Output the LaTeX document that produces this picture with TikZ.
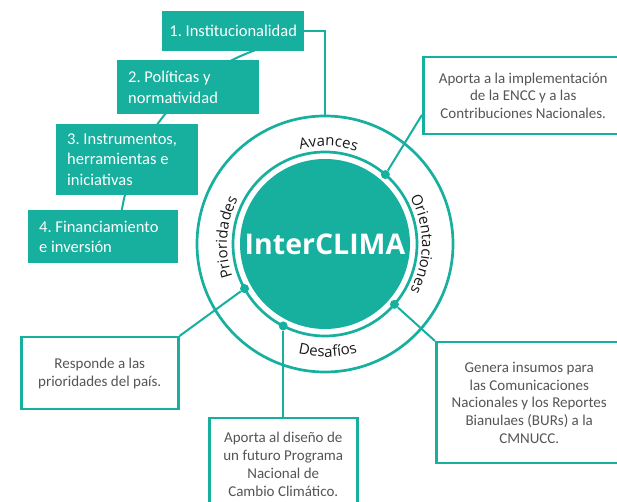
\documentclass[tikz,border=0pt]{standalone}
\usepackage{fontspec}
\setmainfont{Open Sans}
\newfontfamily\boxfont{Carlito}
\usetikzlibrary{positioning,calc,decorations.text}
\definecolor{ClimaTeal}{RGB}{23,175,158}
\definecolor{BoxText}{RGB}{85,85,85}
\definecolor{RingText}{RGB}{25,25,25}
\frenchspacing

\tikzset{
  tealbox/.style={fill=ClimaTeal, text=white, anchor=north west, inner xsep=11pt, inner ysep=0pt,
    align=left, font=\boxfont\fontsize{16.5}{20.5}\selectfont,
    execute at begin node={\spaceskip=0pt\xspaceskip=0pt}},
  notebox/.style={draw=ClimaTeal, line width=2.5pt, fill=white, text=BoxText, anchor=north west,
    inner sep=0pt, align=center, font=\boxfont\fontsize{15}{17.8}\selectfont},
  ring/.style={circle, draw=ClimaTeal, line width=2.7pt, inner sep=0pt, outer sep=0pt},
  link/.style={draw=ClimaTeal, line width=2pt},
  dot/.style={circle, fill=ClimaTeal, minimum size=9pt, inner sep=0pt},
  ringlabel/.style={decorate, decoration={text along path, text align=center, text color=RingText,
    text={|\fontsize{15}{17}\selectfont|#1}}}
}

\begin{document}
\begin{tikzpicture}[x=1pt, y=1pt]
  \useasboundingbox (0,0) rectangle (617,502);
  \coordinate (c) at (325,258);

  % spine behind the four topics
  \draw[link] (c) ++(105:206pt) arc[start angle=105, end angle=175, radius=206pt];

  \node[tealbox, align=center, minimum width=142pt, minimum height=40pt, inner xsep=0pt] (inst) at (162,491) {1. Institucionalidad};
  \node[tealbox, text width=120pt, minimum height=54pt] (pol) at (117,442) {2. Políticas y\\normatividad};
  \node[tealbox, text width=120pt, minimum height=71pt] (instr) at (56,378) {3. Instrumentos,\\herramientas e\\iniciativas};
  \node[tealbox, text width=128pt, minimum height=53pt] (fin) at (28,292) {4. Financiamiento\\e inversión};

  % rings
  \node[ring, minimum size=256pt] (outer) at (c) {};
  \node[ring, minimum size=184pt] (inner) at (c) {};
  \node[circle, fill=ClimaTeal, minimum size=170pt, inner sep=0pt, text=white,
    font=\bfseries\fontsize{28.5}{30}\selectfont] (core) at (c) {InterCLIMA};

  \path[ringlabel=Avances] (c) ++(118:98pt) arc[start angle=118, end angle=58, radius=98pt];
  \path[ringlabel=Orientaciones] (c) ++(40:97pt) arc[start angle=40, end angle=-40, radius=97pt];
  \path[ringlabel=Prioridades] (c) ++(206:98pt) arc[start angle=206, end angle=146, radius=98pt];
  \path[ringlabel=Desafíos] (c) ++(-118:113pt) arc[start angle=-118, end angle=-59, radius=113pt];

  \draw[link] (inst.east) -| (outer.north);

  % notes round the ring
  \node[notebox, minimum width=200pt, minimum height=77pt] (encc) at (422,446)
    {Aporta a la implementación\\de la ENCC y a las\\Contribuciones Nacionales.};
  \node[notebox, minimum width=186pt, minimum height=121pt] (bur) at (435,161)
    {Genera insumos para\\las Comunicaciones\\Nacionales y los Reportes\\Bianulaes (BURs) a la\\CMNUCC.};
  \node[notebox, minimum width=157pt, minimum height=72pt] (resp) at (20,166)
    {Responde a las\\prioridades del país.};
  \node[notebox, minimum width=148pt, minimum height=92pt] (prog) at (208,85)
    {Aporta al diseño de\\un futuro Programa\\Nacional de\\Cambio Climático.};

  \node[dot] (dA) at (inner.49) {};
  \node[dot] (dB) at (inner.-41) {};
  \node[dot] (dC) at (inner.-117) {};
  \node[dot] (dD) at (inner.-151) {};

  \draw[link] (dA) -- ($(encc.south west)!0.26!(encc.north west)$);
  \draw[link] (dB) -- (bur.north west);
  \draw[link] (dC) -- (dC |- prog.north);
  \draw[link] (dD) -- (resp.north east);
\end{tikzpicture}
\end{document}
